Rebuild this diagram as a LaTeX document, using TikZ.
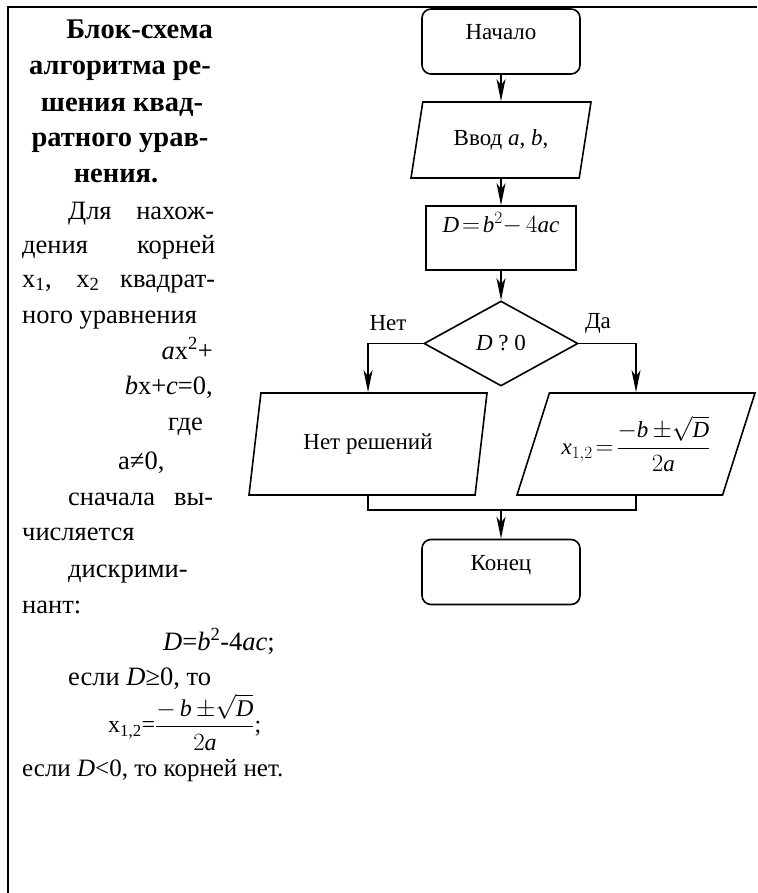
\documentclass[tikz,border=0pt]{standalone}
\usepackage{amsmath}
\usepackage{fontspec}
\setmainfont{Liberation Serif}
\usetikzlibrary{positioning,arrows.meta,shapes.geometric}
\newcommand{\bodysize}{\fontsize{26.5}{35}\selectfont}
\newcommand{\chartsize}{\fontsize{23}{27}\selectfont}
\tikzset{
  flowarrow/.style={-{Stealth[length=22pt, width=9pt, inset=6pt]}, line width=1.6pt},
  flowline/.style={line width=1.6pt},
  termbox/.style={draw, line width=1.6pt, rounded corners=9pt, minimum width=158pt, text height=31pt, text depth=34pt, inner sep=0pt, font=\chartsize},
  calcbox/.style={draw, line width=1.6pt, minimum width=150pt, text height=27pt, text depth=37pt, inner sep=0pt, font=\chartsize},
  iobox/.style={draw, line width=1.6pt, trapezium, trapezium left angle=60, trapezium right angle=120, trapezium stretches body, inner sep=0pt, font=\chartsize},
  testbox/.style={draw, line width=1.6pt, diamond, aspect=1.81, minimum width=154pt, minimum height=85pt, inner sep=0pt, font=\chartsize},
  branchlabel/.style={font=\chartsize, inner sep=0pt},
  bodyline/.style={font=\bodysize, inner sep=0pt, anchor=base west},
  headline/.style={font=\fontsize{28.5}{35}\selectfont\bfseries, inner sep=0pt, anchor=base}
}

\begin{document}
\begin{tikzpicture}[x=1pt, y=-1pt]
  \useasboundingbox (0,0) rectangle (757,893);
  \draw[line width=2.5pt] (8,893) -- (8,7) -- (757,7);

  % text column
  \node[headline, anchor=base east] (h1) at (213,39) {Блок-схема};
  \node[headline] (h2) at (120,75) {алгоритма ре-};
  \node[headline] (h3) at (122,112) {шения квад-};
  \node[headline] (h4) at (120,147) {ратного урав-};
  \node[headline] (h5) at (116,183) {нения.};
  \node[bodyline] (b1) at (68,219) {\makebox[146pt][s]{Для нахож-}};
  \node[bodyline] (b2) at (22,253) {\makebox[193pt][s]{дения корней}};
  \node[bodyline] (b3) at (22,287) {\makebox[193pt][s]{x\textsubscript{1}, x\textsubscript{2} квадрат-}};
  \node[bodyline] (b4) at (22,323) {ного уравнения};
  \node[bodyline, anchor=base east] (b5) at (213,359) {\textit{a}x\textsuperscript{2}+};
  \node[bodyline, anchor=base east] (b6) at (213,394) {\textit{b}x+\textit{c}=0,};
  \node[bodyline, anchor=base east] (b7) at (203,430) {где};
  \node[bodyline] (b8) at (118,469) {a≠0,};
  \node[bodyline] (b9) at (68,505) {\makebox[145pt][s]{сначала вы-}};
  \node[bodyline] (b10) at (22,540) {числяется};
  \node[bodyline] (b11) at (68,577) {дискрими-};
  \node[bodyline] (b12) at (22,613) {нант:};
  \node[bodyline] (b13) at (163,650) {\textit{D}=\textit{b}\textsuperscript{2}-4\textit{ac};};
  \node[bodyline] (b14) at (68,685) {если \textit{D}≥0, то};
  \node[bodyline, anchor=west, font=\fontsize{24}{30}\selectfont] (b15) at (108,722)
    {x\textsubscript{1,2}={}$\dfrac{{-}\,\mathit{b}\,{\pm}\sqrt{\mathit{D}}}{2\mathit{a}}$;};
  \node[bodyline, font=\fontsize{25}{35}\selectfont] (b16) at (22,776) {если \textit{D}<0, то корней нет.};

  % flowchart
  \node[termbox] (start) at (501,41.5) {Начало};
  \node[iobox, minimum width=180pt, minimum height=76pt] (in) at (501,140) {Ввод \textit{a}, \textit{b},};
  \node[calcbox] (calc) at (501,238) {$\mathit{D}\!=\!\mathit{b}^2{-}\,4\mathit{ac}$};
  \node[testbox] (test) at (501,343.5) {\textit{D} ? 0};
  \node[iobox, minimum width=238pt, minimum height=102pt] (no) at (368,444) {Нет решений};
  \node[iobox, minimum width=238pt, minimum height=102pt] (yes) at (636,444)
    {$\mathit{x}_{1,2}\!=\!\dfrac{{-}\mathit{b}\,{\pm}\sqrt{\mathit{D}}}{2\mathit{a}}$};
  \node[termbox] (end) at (501,572) {Конец};
  \node[branchlabel] (nolabel) at (388,323) {Нет};
  \node[branchlabel] (yeslabel) at (598,323) {Да};
  \coordinate (join) at (501,510);

  \draw[flowarrow] (start) -- (in);
  \draw[flowarrow] (in) -- (calc);
  \draw[flowarrow] (calc) -- (test);
  \draw[flowarrow] (test.west) -| (no.north);
  \draw[flowarrow] (test.east) -| (yes.north);
  \draw[flowline] (no.south) |- (join) -| (yes.south);
  \draw[flowarrow] (join) -- (end);
\end{tikzpicture}
\end{document}
